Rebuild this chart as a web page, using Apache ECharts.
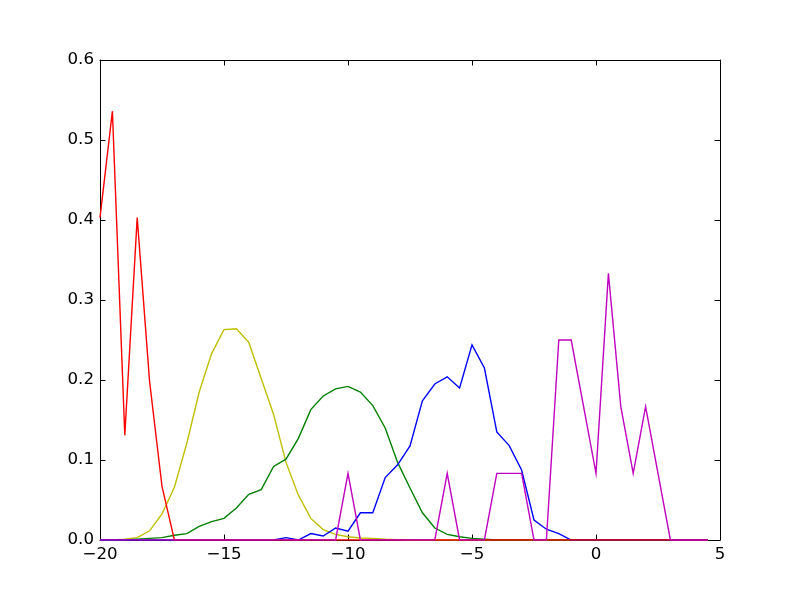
<!DOCTYPE html>
<html>
<head>
<meta charset="utf-8">
<script src="https://cdn.jsdelivr.net/npm/echarts@6/dist/echarts.min.js"></script>
<style>html,body{margin:0;padding:0;background:#fff}#c{width:800px;height:600px}</style>
</head>
<body>
<div id="c"></div>
<script>
var xValues = [-20,-19.5,-19,-18.5,-18,-17.5,-17,-16.5,-16,-15.5,-15,-14.5,-14,-13.5,-13,-12.5,-12,-11.5,-11,-10.5,-10,-9.5,-9,-8.5,-8,-7.5,-7,-6.5,-6,-5.5,-5,-4.5,-4,-3.5,-3,-2.5,-2,-1.5,-1,-0.5,0,0.5,1,1.5,2,2.5,3,3.5,4,4.5];

var yellowValues = [0,0,0.001,0.003,0.0115,0.0325,0.066,0.121,0.185,0.233,0.263,0.264,0.247,0.202,0.157,0.097,0.056,0.027,0.013,0.007,0.004,0.0025,0.002,0.001,0.0005,0,0,0,0,0,0,0,0,0,0,0,0,0,0,0,0,0,0,0,0,0,0,0,0,0];

var greenValues = [0,0,0,0.001,0.002,0.003,0.006,0.008,0.017,0.023,0.027,0.040,0.057,0.063,0.092,0.101,0.127,0.163,0.180,0.189,0.192,0.185,0.168,0.140,0.097,0.065,0.034,0.015,0.007,0.004,0.002,0.001,0,0,0,0,0,0,0,0,0,0,0,0,0,0,0,0,0,0];

var blueValues = [0,0,0,0,0,0,0,0,0,0,0,0,0,0,0,0.003,0,0.008,0.005,0.015,0.011,0.034,0.034,0.078,0.094,0.1175,0.174,0.195,0.204,0.19,0.244,0.215,0.135,0.118,0.0875,0.025,0.0135,0.008,0,0,0,0,0,0,0,0,0,0,0,0];

var redValues = [0.403,0.536,0.131,0.403,0.198,0.067,0,0,0,0,0,0,0,0,0,0,0,0,0,0,0,0,0,0,0,0,0,0,0,0,0,0,0,0,0,0,0,0,0,0,0,0,0,0,0,0,0,0,0,0];

var magentaValues = [0,0,0,0,0,0,0,0,0,0,0,0,0,0,0,0,0,0,0,0,0.0833,0,0,0,0,0,0,0,0.0833,0,0,0,0.0833,0.0833,0.0833,0,0,0.25,0.25,0.1667,0.0833,0.3333,0.1667,0.0833,0.1667,0.0833,0,0,0,0];

var xTicks = [-20,-15,-10,-5,0,5];
var yTicks = [0.0,0.1,0.2,0.3,0.4,0.5,0.6];

function pairs(vals){ return xValues.map(function(x,i){ return [x, vals[i]]; }); }

var FONT = 'DejaVu Sans';
function mkSeries(vals, color){
  return { type:'line', data:pairs(vals), showSymbol:false, symbol:'none',
    lineStyle:{color:color, width:1.4, join:'miter', miterLimit:10}, itemStyle:{color:color}, animation:false, z:2 };
}

var chart = echarts.init(document.getElementById('c'), null, {renderer:'canvas'});
var axisLine = {show:true, onZero:false, lineStyle:{color:'#000', width:1}};
var tick = {show:true, inside:true, length:5.5, lineStyle:{color:'#000', width:1}};
chart.setOption({
  animation:false,
  backgroundColor:'#fff',
  grid:{left:100, top:60, width:620, height:480, show:false},
  xAxis:[
    {type:'value', min:-20, max:5, interval:5, position:'bottom', axisLine:axisLine, axisTick:tick,
     splitLine:{show:false},
     axisLabel:{margin:6, color:'#000', fontFamily:FONT, fontSize:16.67,
       formatter:function(v){ return xTicks.indexOf(v) < 0 ? '' : (v<0 ? '\u2212'+Math.abs(v) : String(v)); }}},
    {type:'value', min:-20, max:5, interval:5, position:'top', axisLine:axisLine, axisTick:tick,
     splitLine:{show:false}, axisLabel:{show:false}}
  ],
  yAxis:[
    {type:'value', min:0, max:0.6, interval:0.1, position:'left', axisLine:axisLine, axisTick:tick,
     splitLine:{show:false},
     axisLabel:{margin:6, color:'#000', fontFamily:FONT, fontSize:16.67,
       formatter:function(v){ return v.toFixed(1); }}},
    {type:'value', min:0, max:0.6, interval:0.1, position:'right', axisLine:axisLine, axisTick:tick,
     splitLine:{show:false}, axisLabel:{show:false}}
  ],
  series:[
    mkSeries(yellowValues, '#bfbf00'),
    mkSeries(greenValues, '#008000'),
    mkSeries(blueValues, '#0000ff'),
    mkSeries(redValues, '#ff0000'),
    mkSeries(magentaValues, '#bf00bf')
  ]
});
</script>
</body>
</html>
